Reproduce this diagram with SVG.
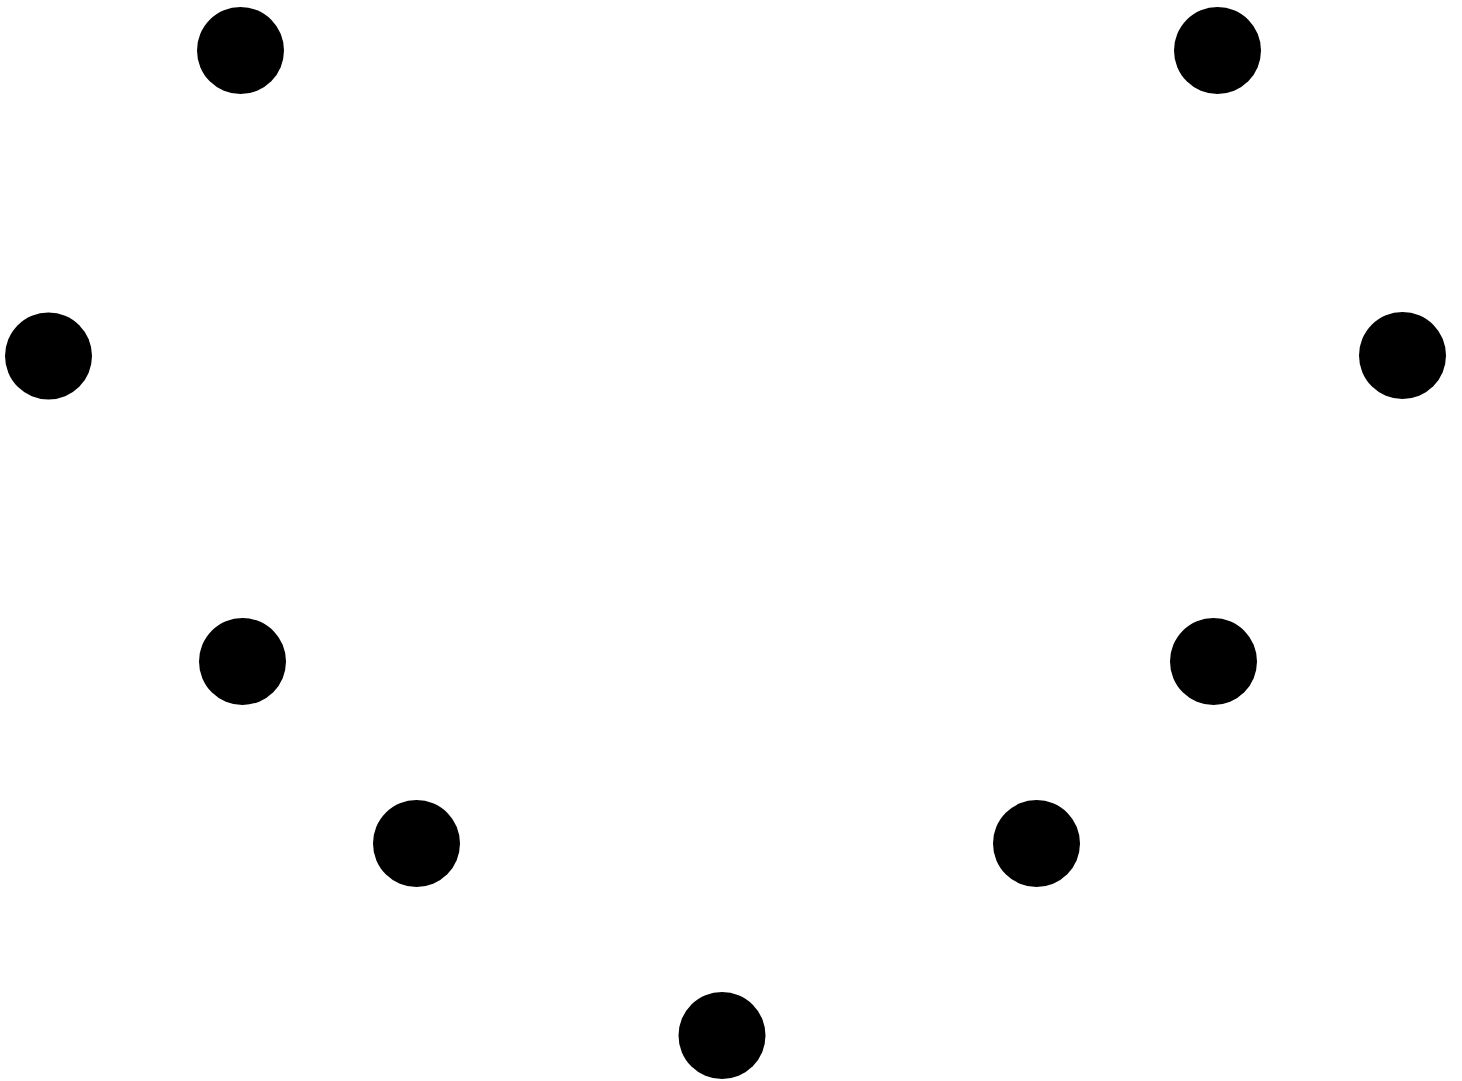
<svg xmlns="http://www.w3.org/2000/svg" width="1462" height="1081" viewBox="0 0 1462 1081">
<style>.n{fill:#000;}</style>
<rect width="1462" height="1081" fill="#fff"/>
<g id="connectors"></g>
<g id="n1"><circle class="n" cx="240.5" cy="50.5" r="43.5"/></g>
<g id="n2"><circle class="n" cx="1217.5" cy="50.5" r="43.5"/></g>
<g id="n3"><circle class="n" cx="48.5" cy="356" r="43.5"/></g>
<g id="n4"><circle class="n" cx="1402.5" cy="355.5" r="43.5"/></g>
<g id="n5"><circle class="n" cx="242.5" cy="661.5" r="43.5"/></g>
<g id="n6"><circle class="n" cx="1213.5" cy="661.5" r="43.5"/></g>
<g id="n7"><circle class="n" cx="416.5" cy="843.5" r="43.5"/></g>
<g id="n8"><circle class="n" cx="1036.5" cy="843.5" r="43.5"/></g>
<g id="n9"><circle class="n" cx="722" cy="1035.5" r="43.5"/></g>
</svg>
